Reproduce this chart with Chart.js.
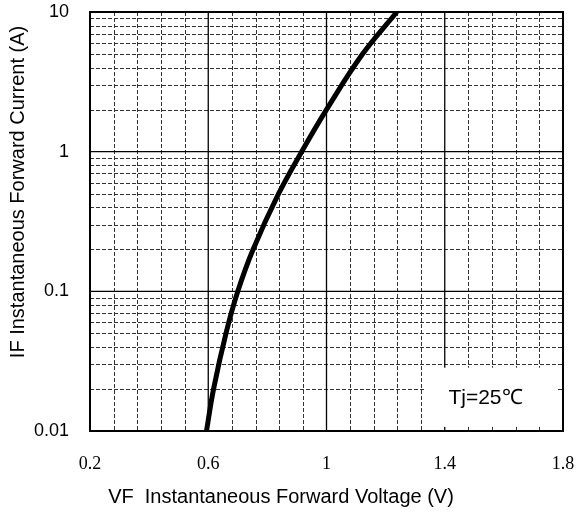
<!DOCTYPE html>
<html>
<head>
<meta charset="utf-8">
<script src="https://cdn.jsdelivr.net/npm/chart.js@4.4.1/dist/chart.umd.min.js"></script>
<style>
  html, body { margin: 0; padding: 0; background: #fff; }
  #wrap { width: 577px; height: 514px; }
</style>
</head>
<body>
<div id="wrap"><canvas id="c" width="577" height="514"></canvas></div>
<script>
// Forward current (A) and forward voltage (V)
const iF = [0.01, 0.02, 0.05, 0.1, 0.2, 0.5, 1, 2, 5, 10];
const vf = [0.594, 0.618, 0.660, 0.700, 0.752, 0.838, 0.916, 1.000, 1.122, 1.238];

const xMajorTicks = [0.2, 0.6, 1.0, 1.4, 1.8];
const xMinorTicks = [0.28, 0.36, 0.44, 0.52, 0.68, 0.76, 0.84, 0.92, 1.08, 1.16, 1.24, 1.32, 1.48, 1.56, 1.64, 1.72];
const yMajorTicks = [0.01, 0.1, 1, 10];
const yMinorTicks = [0.02,0.03,0.04,0.05,0.06,0.07,0.08,0.09, 0.2,0.3,0.4,0.5,0.6,0.7,0.8,0.9, 2,3,4,5,6,7,8,9];

const xTitle = 'VF  Instantaneous Forward Voltage (V)';
const yTitle = 'IF Instantaneous Forward Current (A)';
const noteText = 'Tj=25\u2103';
// note box extent in data units
const noteBoxX = [1.333, 1.783];
const noteBoxY = [0.0107, 0.0284];

const points = vf.map((v, i) => ({ x: v, y: iF[i] }));

const gridPlugin = {
  id: 'gridPlugin',
  beforeDatasetsDraw(chart) {
    const { ctx, chartArea: a, scales: { x, y } } = chart;
    ctx.save();
    // minor dashed grid
    ctx.strokeStyle = '#333';
    ctx.lineWidth = 1;
    ctx.setLineDash([4, 2]);
    xMinorTicks.forEach(v => {
      const px = Math.round(x.getPixelForValue(v)) + 0.5;
      ctx.beginPath(); ctx.moveTo(px, a.top); ctx.lineTo(px, a.bottom); ctx.stroke();
    });
    yMinorTicks.forEach(v => {
      const py = Math.round(y.getPixelForValue(v)) + 0.5;
      ctx.beginPath(); ctx.moveTo(a.left, py); ctx.lineTo(a.right, py); ctx.stroke();
    });
    ctx.setLineDash([]);
    // major solid grid
    ctx.strokeStyle = '#000';
    ctx.lineWidth = 1.3;
    xMajorTicks.forEach(v => {
      const px = x.getPixelForValue(v);
      ctx.beginPath(); ctx.moveTo(px, a.top); ctx.lineTo(px, a.bottom); ctx.stroke();
    });
    yMajorTicks.forEach(v => {
      const py = y.getPixelForValue(v);
      ctx.beginPath(); ctx.moveTo(a.left, py); ctx.lineTo(a.right, py); ctx.stroke();
    });
    // note box
    const bx0 = x.getPixelForValue(noteBoxX[0]), bx1 = x.getPixelForValue(noteBoxX[1]);
    const by0 = y.getPixelForValue(noteBoxY[1]), by1 = y.getPixelForValue(noteBoxY[0]);
    ctx.fillStyle = '#fff';
    ctx.fillRect(bx0, by0, bx1 - bx0, by1 - by0);
    ctx.fillStyle = '#000';
    ctx.font = '21px "Liberation Sans", Arial, sans-serif';
    ctx.textAlign = 'center';
    ctx.textBaseline = 'middle';
    ctx.fillText(noteText, (bx0 + bx1) / 2 - 6, (by0 + by1) / 2 + 1);
    // frame
    ctx.lineWidth = 2;
    ctx.strokeRect(a.left, a.top, a.right - a.left, a.bottom - a.top);
    // axis titles
    ctx.font = '20px "Liberation Sans", Arial, sans-serif';
    ctx.textAlign = 'center';
    ctx.textBaseline = 'middle';
    ctx.fillText(xTitle, 281, 497);
    ctx.translate(18, 192);
    ctx.rotate(-Math.PI / 2);
    ctx.fillText(yTitle, 0, 0);
    ctx.restore();
  }
};

new Chart(document.getElementById('c'), {
  type: 'line',
  data: {
    datasets: [{
      data: points,
      borderColor: '#000',
      borderWidth: 5,
      pointRadius: 0,
      pointHitRadius: 0,
      fill: false,
      tension: 0.4,
      borderCapStyle: 'butt'
    }]
  },
  options: {
    responsive: false,
    animation: false,
    layout: { autoPadding: false, padding: { left: 0, right: 14, top: 12, bottom: 0 } },
    plugins: { legend: { display: false }, tooltip: { enabled: false } },
    scales: {
      x: {
        type: 'linear',
        min: 0.2, max: 1.8,
        afterBuildTicks: s => { s.ticks = xMajorTicks.map(v => ({ value: v })); },
        afterFit: s => { s.height = 83; },
        grid: { display: true, color: 'rgba(0,0,0,0)', drawTicks: true, tickLength: 22, tickColor: 'rgba(0,0,0,0)' },
        border: { display: false },
        ticks: {
          padding: 0,
          color: '#000',
          font: { family: '"Liberation Serif", "DejaVu Serif", serif', size: 18 },
          maxRotation: 0,
          callback: v => String(v)
        }
      },
      y: {
        type: 'logarithmic',
        min: 0.01, max: 10,
        afterBuildTicks: s => { s.ticks = yMajorTicks.map(v => ({ value: v })); },
        afterFit: s => { s.width = 90; },
        grid: { display: true, color: 'rgba(0,0,0,0)', drawTicks: true, tickLength: 21, tickColor: 'rgba(0,0,0,0)' },
        border: { display: false },
        ticks: {
          padding: 0,
          color: '#000',
          font: { family: '"Liberation Sans", Arial, sans-serif', size: 18 },
          callback: v => String(v)
        }
      }
    }
  },
  plugins: [gridPlugin]
});
</script>
</body>
</html>
